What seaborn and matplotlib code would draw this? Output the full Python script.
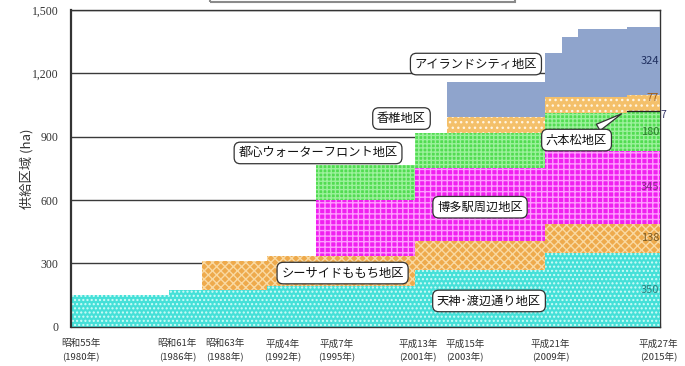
import matplotlib
matplotlib.use("Agg")
import matplotlib.pyplot as plt
import matplotlib.patches as mpatches
import numpy as np
import pandas as pd
import seaborn as sns

sns.set_theme(style="white")
plt.rcParams["font.family"] = ["Noto Sans CJK JP", "DejaVu Sans"]
plt.rcParams["hatch.linewidth"] = 1.0

# 供給区域の推移 (ha) - 各地区の面積が変わった年と値
years = list(range(1980, 2016))

tenjin_start = [1980, 1986, 1992, 2001, 2009]
tenjin_ha = [150, 174, 195, 268, 350]
seaside_start = [1988]
seaside_ha = [138]
hakata_start = [1995, 2001]
hakata_ha = [268, 345]
waterfront_start = [1995, 2009]
waterfront_ha = [165, 180]
ropponmatsu_start = [2014]
ropponmatsu_ha = [7]
kashii_start = [2003]
kashii_ha = [77]
island_start = [2003, 2009, 2010, 2011, 2014]
island_ha = [168, 205, 284, 319, 324]

tick_years = [1980, 1986, 1988, 1992, 1995, 2001, 2003, 2009, 2015]
tick_labels = ["昭和55年\n(1980年)", "昭和61年\n(1986年)", "昭和63年\n(1988年)",
               "平成4年\n(1992年)", "平成7年\n(1995年)", "平成13年\n(2001年)",
               "平成15年\n(2003年)", "平成21年\n(2009年)", "平成27年\n(2015年)"]
tick_nudge = [0.1, 0.0, 0.9, 0.45, 0.75, -0.3, 0.6, -0.2, 0.4]


def yearly(starts, values):
    s = pd.Series(values, index=starts, dtype=float).reindex(years).ffill().fillna(0)
    return s.to_numpy()


layers = [
    # name, series, face, hatch colour, hatch, label colour
    ("天神･渡辺通り地区", yearly(tenjin_start, tenjin_ha), "#45e0d8", "#d0fcf8", "....", "#2b7f7c"),
    ("シーサイドももち地区", yearly(seaside_start, seaside_ha), "#eeaa4c", "#f9d9a2", "xxxx", "#7a5a22"),
    ("博多駅周辺地区", yearly(hakata_start, hakata_ha), "#f020f0", "#ff9cff", "+++", "#8a2a8a"),
    ("都心ウォーターフロント地区", yearly(waterfront_start, waterfront_ha), "#52dc52", "#9cf19c", "++++", "#2c7a2c"),
    ("六本松地区", yearly(ropponmatsu_start, ropponmatsu_ha), "#52dc52", "#9cf19c", "++++", "#333366"),
    ("香椎地区", yearly(kashii_start, kashii_ha), "#f4c06a", "#fff4e0", "...", "#a05a10"),
    ("アイランドシティ地区", yearly(island_start, island_ha), "#8fa4cc", None, None, "#1f2f5f"),
]

fig = plt.figure(figsize=(6.85, 3.66), dpi=100)
ax = fig.add_axes([71 / 685, 1 - 326.7 / 366, 589 / 685, 316.7 / 366])

ax.set_xlim(0, len(years))
ax.set_ylim(0, 1500)
yt = list(range(0, 1501, 300))
for v in yt[1:]:
    ax.axhline(v, color="#3a3a3a", lw=1.0, zorder=1)

edges = np.arange(len(years) + 1)
bottom = np.zeros(len(years))
tops = {}
for name, vals, face, hcol, hatch, _ in layers:
    top = bottom + vals
    y0 = np.append(bottom, bottom[-1])
    y1 = np.append(top, top[-1])
    mask = np.append(vals > 0, vals[-1] > 0)
    ax.fill_between(edges, y0, y1, step="post", facecolor=face, linewidth=0, zorder=2,
                    where=mask)
    if hatch:
        ax.fill_between(edges, y0, y1, step="post", facecolor="none", edgecolor=hcol,
                        hatch=hatch, linewidth=0, zorder=2.1, where=mask)
    tops[name] = top
    bottom = top

# 六本松地区 (7ha) の線
rp = tops["六本松地区"]
idx = [i for i, v in enumerate(layers[4][1]) if v > 0]
ax.plot([idx[0], len(years)], [rp[idx[0]], rp[idx[0]]], color="#222222", lw=1.0, zorder=3)

ax.set_yticks(yt)
ax.set_yticklabels([f"{v:,}" for v in yt], family="Liberation Serif",
                   fontsize=8.5, color="#333333")

pos = [years.index(y) + 0.5 + n for y, n in zip(tick_years, tick_nudge)]
ax.set_xticks(pos)
ax.set_xticklabels(tick_labels, fontsize=6.9, color="#333333", linespacing=1.35)
ax.set_xticks(edges, minor=True)
ax.tick_params(axis="x", which="major", length=0, pad=9)
ax.tick_params(axis="x", which="minor", direction="in", length=3, width=0.8,
               color="#333333", bottom=True)
ax.tick_params(axis="y", length=0, pad=9)

for side in ["left", "bottom", "right", "top"]:
    ax.spines[side].set_color("#333333")
ax.spines["left"].set_linewidth(1.6)
ax.spines["bottom"].set_linewidth(1.0)
ax.spines["right"].set_linewidth(1.0)
ax.spines["top"].set_linewidth(1.0)
ax.spines["right"].set_zorder(1)

ax.set_ylabel("供給区域 (ha)", fontsize=9.5, color="#333333")
ax.yaxis.set_label_coords(-0.063, 0.5)

# 右端の面積表示
for name, vals, face, hcol, hatch, col in layers:
    i = len(years) - 1
    mid = tops[name][i] - vals[i] / 2
    if name == "六本松地区":
        ax.text(len(years) + 0.05, mid - 15, f"{vals[i]:.0f}", fontsize=7.5, color=col,
                ha="left", va="center", clip_on=False)
    else:
        off = 25 if name == "香椎地区" else 0
        ax.text(len(years) - 0.05, mid + off, f"{vals[i]:.0f}", fontsize=8, color=col,
                ha="right", va="center", zorder=4)

box = dict(boxstyle="round,pad=0.35,rounding_size=0.5", fc="white", ec="#333333", lw=0.9)
label_pos = {
    "天神･渡辺通り地区": (25.55, 122),
    "シーサイドももち地区": (16.6, 254),
    "博多駅周辺地区": (25.0, 566),
    "都心ウォーターフロント地区": (15.1, 823),
    "香椎地区": (20.2, 986),
    "アイランドシティ地区": (24.75, 1244),
}
for name, (x, y) in label_pos.items():
    ax.text(x, y, name, fontsize=8.8, ha="center", va="center", color="#111111",
            bbox=box, zorder=5)

ax.annotate("六本松地区", xy=(idx[0] - 0.2, rp[idx[0]] - 5), xytext=(30.9, 884),
            fontsize=8.8, ha="center", va="center", color="#111111", bbox=box, zorder=5,
            arrowprops=dict(arrowstyle="wedge,tail_width=0.6,shrink_factor=0.5",
                            fc="white", ec="#333333", lw=0.9))

# 上部の切れた枠
fig.patches.append(mpatches.Rectangle((210 / 685, 1 - 2 / 366), 305 / 685, 0.05,
                                      transform=fig.transFigure, fill=False,
                                      ec="#8a8a8a", lw=1.5))

fig.savefig("out.png", dpi=100)
